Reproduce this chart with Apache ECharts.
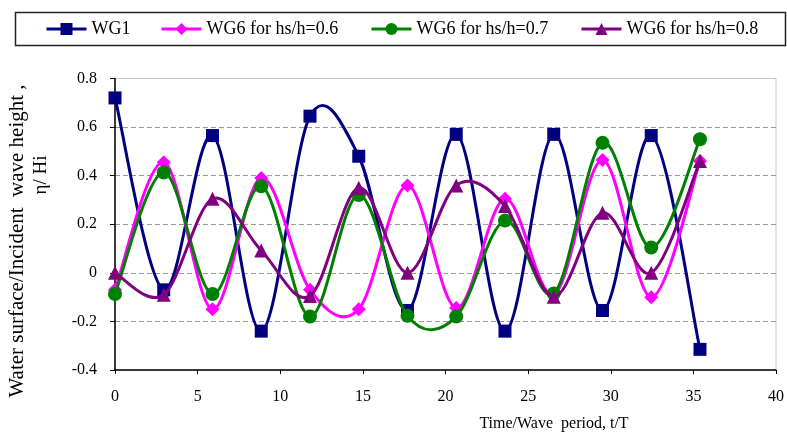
<!DOCTYPE html>
<html>
<head>
<meta charset="utf-8">
<script src="https://cdn.jsdelivr.net/npm/echarts@6/dist/echarts.min.js"></script>
<style>html,body{margin:0;padding:0;background:#fff;}#c{width:787px;height:441px;}</style>
</head>
<body>
<div id="c"></div>
<script>
var time = [0, 2.95, 5.9, 8.85, 11.8, 14.75, 17.7, 20.65, 23.6, 26.55, 29.5, 32.45, 35.4];
var wg1 = [0.72, -0.07, 0.565, -0.24, 0.645, 0.48, -0.155, 0.57, -0.24, 0.57, -0.155, 0.565, -0.315];
var wg6_06 = [-0.07, 0.455, -0.15, 0.39, -0.07, -0.15, 0.36, -0.145, 0.305, -0.09, 0.465, -0.10, 0.46];
var wg6_07 = [-0.087, 0.413, -0.087, 0.356, -0.18, 0.32, -0.177, -0.18, 0.215, -0.085, 0.535, 0.104, 0.55];
var wg6_08 = [0.0, -0.09, 0.305, 0.092, -0.095, 0.35, 0.0, 0.36, 0.275, -0.098, 0.247, 0.0, 0.46];
var seriesNames = ['WG1', 'WG6 for hs/h=0.6', 'WG6 for hs/h=0.7', 'WG6 for hs/h=0.8'];
var yTitle1 = 'Water surface/Incident  wave height ,';
var yTitle2 = 'η/ Hi';
var xTitle = 'Time/Wave  period, t/T';

var FONT = "'Liberation Serif', 'Times New Roman', serif";
var colors = ['#000080', '#ff00ff', '#008000', '#800080'];
var symbols = ['rect', 'diamond', 'circle', 'triangle'];
var sizes = [13, 14, 14, 14];
var allY = [wg1, wg6_06, wg6_07, wg6_08];

function pairs(ys) { return ys.map(function (v, i) { return [time[i], v]; }); }

// smooth curve (uniform Catmull-Rom, like a spreadsheet "smoothed line"),
// drawn through the data points converted by the chart's own axes
function curveSeries(k) {
  var ys = allY[k];
  return {
    name: '_curve' + k, type: 'custom', data: pairs(ys), z: 2 + 2 * k, silent: true,
    encode: { x: 0, y: 1 },
    renderItem: function (params, api) {
      if (params.dataIndex !== 0) return null;
      var pts = ys.map(function (v, i) { return api.coord([time[i], v]); });
      var n = pts.length, kids = [];
      for (var i = 0; i < n - 1; i++) {
        var p0 = pts[Math.max(i - 1, 0)], p1 = pts[i], p2 = pts[i + 1], p3 = pts[Math.min(i + 2, n - 1)];
        kids.push({
          type: 'bezierCurve',
          shape: {
            x1: p1[0], y1: p1[1], x2: p2[0], y2: p2[1],
            cpx1: p1[0] + (p2[0] - p0[0]) / 6, cpy1: p1[1] + (p2[1] - p0[1]) / 6,
            cpx2: p2[0] - (p3[0] - p1[0]) / 6, cpy2: p2[1] - (p3[1] - p1[1]) / 6
          },
          style: { stroke: colors[k], lineWidth: 3, fill: null, lineCap: 'round' }
        });
      }
      return { type: 'group', children: kids };
    }
  };
}
function markerSeries(k) {
  return {
    name: seriesNames[k], type: 'line', data: pairs(allY[k]), z: 3 + 2 * k,
    symbol: symbols[k], symbolSize: sizes[k], showAllSymbol: true,
    lineStyle: { color: colors[k], width: 3, opacity: 0 },
    itemStyle: { color: colors[k] },
    emphasis: { disabled: true }
  };
}
var legendLefts = [45, 160, 370, 580];
var series = [];
for (var k = 0; k < 4; k++) { series.push(curveSeries(k)); series.push(markerSeries(k)); }

var chart = echarts.init(document.getElementById('c'), null, { renderer: 'canvas' });
chart.setOption({
  animation: false,
  grid: { left: 115, right: 4, top: 78.5, bottom: 71, show: true, borderColor: '#c8c8c8', borderWidth: 1 },
  legend: seriesNames.map(function (n, i) {
    return {
      data: [n], left: legendLefts[i], top: 20, padding: 0, itemWidth: 40, itemHeight: 15,
      lineStyle: { color: colors[i], width: 3, opacity: 1 },
      textStyle: { fontFamily: FONT, fontSize: 18, color: '#000' }, selectedMode: false
    };
  }),
  xAxis: {
    type: 'value', min: 0, max: 40, interval: 5,
    axisLine: { show: true, onZero: false, lineStyle: { color: '#000', width: 1.5 } },
    axisTick: { show: true, length: 4, lineStyle: { color: '#000' } },
    axisLabel: { margin: 19, fontFamily: FONT, fontSize: 16, color: '#000' },
    splitLine: { show: false }
  },
  yAxis: {
    type: 'value', min: -0.4, max: 0.8, interval: 0.2,
    axisLine: { show: true, onZero: false, lineStyle: { color: '#000', width: 1.5 } },
    axisTick: { show: true, length: 5, lineStyle: { color: '#000' } },
    axisLabel: { margin: 18, fontFamily: FONT, fontSize: 16, color: '#000',
      formatter: function (v) { return String(Math.round(v * 10) / 10); } },
    splitLine: { show: true, lineStyle: { type: [5, 3], width: 1,
      color: ['rgba(0,0,0,0)', '#9a9a9a', '#9a9a9a', '#9a9a9a', '#9a9a9a', '#9a9a9a', 'rgba(0,0,0,0)'] } }
  },
  graphic: [
    { type: 'rect', shape: { x: 15.5, y: 12.5, width: 770, height: 33 },
      style: { fill: 'none', stroke: '#222', lineWidth: 1.5 }, silent: true },
    { type: 'text', x: 17, y: 241, rotation: Math.PI / 2, silent: true,
      style: { text: yTitle1, font: '21px ' + FONT, fill: '#000', align: 'center', verticalAlign: 'middle' } },
    { type: 'text', x: 41, y: 175, rotation: Math.PI / 2, silent: true,
      style: { text: yTitle2, font: '19px ' + FONT, fill: '#000', align: 'center', verticalAlign: 'middle' } },
    { type: 'text', x: 554, y: 424, silent: true,
      style: { text: xTitle, font: '16px ' + FONT, fill: '#000', align: 'center', verticalAlign: 'middle' } }
  ],
  series: series
});
</script>
</body>
</html>
